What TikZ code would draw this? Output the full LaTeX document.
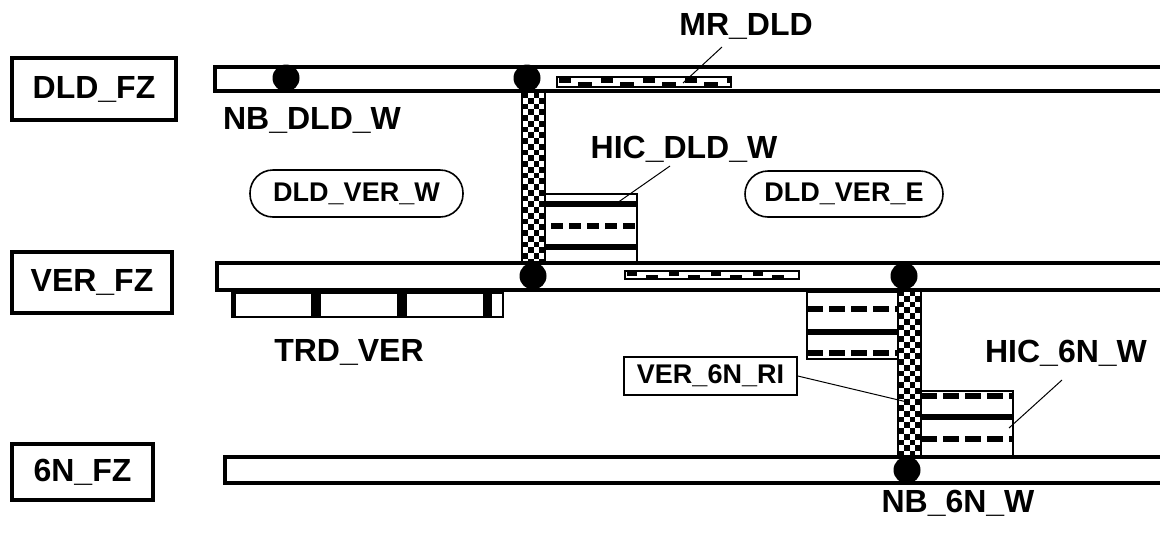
\documentclass[tikz,border=0pt]{standalone}
\usepackage{fontspec}
\setmainfont{Liberation Sans}
\begin{document}
\begin{tikzpicture}[x=0.5pt,y=-0.5pt,
  bar/.style={line width=1.9pt},
  zone/.style={draw, line width=1.6pt, inner sep=0pt, font=\bfseries\fontsize{16}{18}\selectfont},
  big/.style={inner sep=0pt, anchor=base, font=\bfseries\fontsize{16}{18}\selectfont},
  area/.style={draw, line width=0.8pt, rounded corners=11.5pt, inner sep=0pt, font=\bfseries\fontsize{13.5}{16}\selectfont},
  tag/.style={draw, line width=0.8pt, inner sep=0pt, font=\bfseries\fontsize{13.5}{16}\selectfont},
  thinbox/.style={draw, line width=0.75pt},
  hsolid/.style={line width=2.6pt},
  hdash/.style={line width=2.6pt, dash pattern=on 8pt off 3pt},
  hdashs/.style={line width=2.6pt, dash pattern=on 6pt off 3pt},
  leader/.style={line width=0.5pt},
  dot/.style={circle, fill=black, minimum size=13.5pt, inner sep=0pt}
]
\useasboundingbox (0,0) rectangle (1160,536);

% zone labels
\node[zone, minimum width=82pt, minimum height=31pt] (dldfz) at (94,89) {DLD\_FZ};
\node[zone, minimum width=80pt, minimum height=30.5pt] (verfz) at (92,282.5) {VER\_FZ};
\node[zone, minimum width=70.5pt, minimum height=28pt] (sixfz) at (82.5,472) {6N\_FZ};

% bars
\draw[bar] (1160,67) -- (215,67) -- (215,91) -- (1160,91);
\draw[bar] (1160,263) -- (217,263) -- (217,290) -- (1160,290);
\draw[bar] (1160,457) -- (225,457) -- (225,483) -- (1160,483);

% MR_DLD pattern
\draw[thinbox] (557,77) rectangle (731,87);
\foreach \k in {0,...,3} {
  \fill (559+42*\k,77) rectangle ++(12,6);
  \fill (578+42*\k,81.5) rectangle ++(14,5.5);
}
\fill (727,77) rectangle (731,83);
% VER pattern
\draw[thinbox] (625,271) rectangle (799,279);
\foreach \k in {0,...,3} {
  \fill (627+42*\k,271) rectangle ++(10,4.5);
  \fill (646+42*\k,275) rectangle ++(12,4);
}

% TRD_VER
\draw[thinbox] (232,293) rectangle (503,317);
\fill (232,293) rectangle (236,317);
\fill (311,293) rectangle (321,317);
\fill (397,293) rectangle (407,317);
\fill (483,293) rectangle (492,317);

% HIC_DLD_W box
\draw[thinbox] (545,194) rectangle (637,263);
\draw[hsolid] (545,204) -- (637,204);
\draw[hsolid] (545,247) -- (637,247);
\draw[hdashs] (551,226) -- (637,226);

% VER_6N upper box
\draw[thinbox] (807,292) rectangle (898,359);
\draw[hdash] (807,309) -- (898,309);
\draw[hsolid] (807,332) -- (898,332);
\draw[hdash] (807,353) -- (898,353);

% HIC_6N_W box
\draw[thinbox] (921,391) rectangle (1013,457);
\draw[hdash] (921,396) -- (1013,396);
\draw[hsolid] (921,417) -- (1013,417);
\draw[hdash] (921,439) -- (1013,439);

% checker columns
\begin{scope}
\clip (522,92) rectangle (545,263);
\foreach \i in {0,...,30} \foreach \j in {0,2,4} \fill ({522+(\j+mod(\i,2))*5.75},{92+\i*5.75}) rectangle ++(5.75,5.75);
\end{scope}
\draw[line width=0.9pt] (522,92) rectangle (545,263);
\begin{scope}
\clip (898,290) rectangle (921,457);
\foreach \i in {0,...,30} \foreach \j in {0,2,4} \fill ({898+(\j+mod(\i,2))*5.75},{290+\i*5.75}) rectangle ++(5.75,5.75);
\end{scope}
\draw[line width=0.9pt] (898,290) rectangle (921,457);

% dots
\node[dot] (d1) at (286,78) {};
\node[dot] (d2) at (527,78) {};
\node[dot] (d3) at (533,276) {};
\node[dot] (d4) at (904,276) {};
\node[dot] (d5) at (907,470) {};

% areas
\node[area, minimum width=106.5pt, minimum height=23.5pt] (verw) at (356.5,193.5) {DLD\_VER\_W};
\node[area, minimum width=99pt, minimum height=23pt] (vere) at (844,194) {DLD\_VER\_E};

% text labels
\node[big] (mr) at (746,35) {MR\_DLD};
\node[big] (nbdld) at (312,129) {NB\_DLD\_W};
\node[big] (hicdld) at (684,158) {HIC\_DLD\_W};
\node[big] (trd) at (349,361) {TRD\_VER};
\node[big] (hic6n) at (1066,362) {HIC\_6N\_W};
\node[big] (nb6n) at (958,512) {NB\_6N\_W};
\node[tag, minimum width=86.5pt, minimum height=19pt] (ver6n) at (710.5,376) {VER\_6N\_RI};

% leaders
\coordinate (mrp) at (683,83);
\coordinate (mrt) at (722,47);
\draw[leader] (mrp) -- (mrt);
\coordinate (hicdp) at (617,203);
\coordinate (hicdt) at (670,166);
\draw[leader] (hicdp) -- (hicdt);
\coordinate (ver6np) at (907,402);
\draw[leader] (ver6n.east) -- (ver6np);
\coordinate (hic6p) at (1009,428);
\coordinate (hic6t) at (1062,380);
\draw[leader] (hic6p) -- (hic6t);
\end{tikzpicture}
\end{document}
